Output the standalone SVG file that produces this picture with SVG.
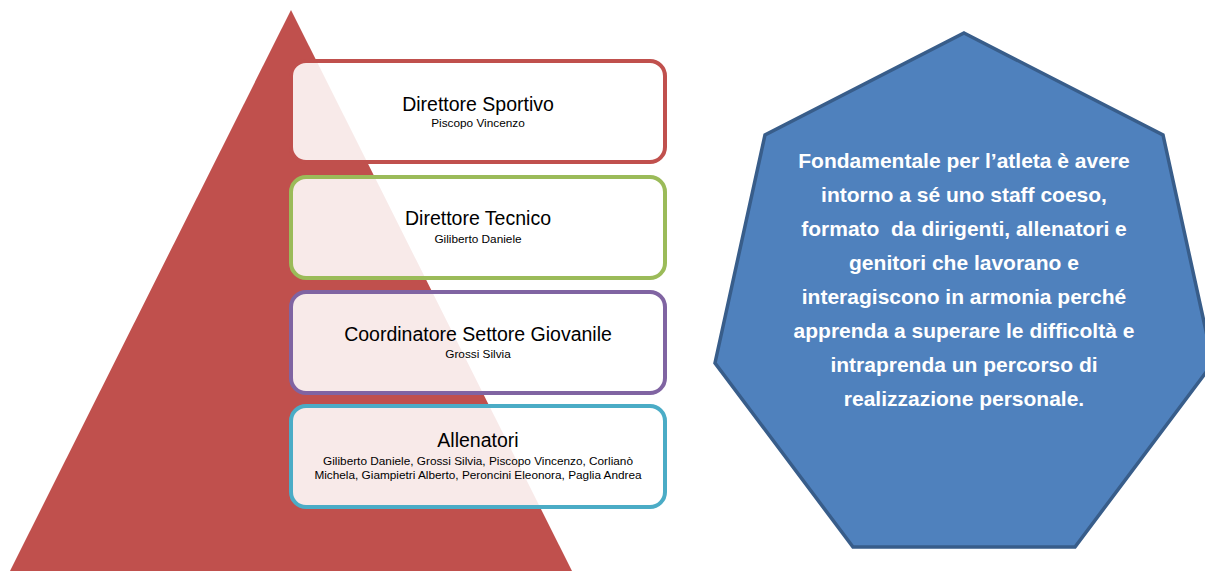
<svg xmlns="http://www.w3.org/2000/svg" width="1205" height="571" viewBox="0 0 1205 571">
<style>
.box{fill:#ffffff;fill-opacity:0.88;stroke-width:4}
.t{font-family:"Liberation Sans",Arial,sans-serif;fill:#000;text-anchor:middle}
.h{font-size:19.5px}
.s{font-size:11.8px}
.w{font-family:"Liberation Sans",Arial,sans-serif;font-weight:bold;font-size:21px;fill:#fff;text-anchor:middle}
</style>
<rect width="1205" height="571" fill="#fff"/>
<g id="pyramid">
<polygon points="291,10 10,571 572,571" fill="#C0504D"/>
</g>
<g id="direttore-sportivo">
<rect class="box" x="291" y="61" width="374" height="101" rx="15" stroke="#C0504D"/>
<text class="t h" x="478" y="111">Direttore Sportivo</text>
<text class="t s" x="478" y="127">Piscopo Vincenzo</text>
</g>
<g id="direttore-tecnico">
<rect class="box" x="291" y="177" width="374" height="101" rx="15" stroke="#9BBB59"/>
<text class="t h" x="478" y="225">Direttore Tecnico</text>
<text class="t s" x="478" y="243">Giliberto Daniele</text>
</g>
<g id="coordinatore">
<rect class="box" x="291" y="292" width="374" height="101" rx="15" stroke="#8064A2"/>
<text class="t h" x="478" y="341">Coordinatore Settore Giovanile</text>
<text class="t s" x="478" y="358">Grossi Silvia</text>
</g>
<g id="allenatori">
<rect class="box" x="291" y="406" width="374" height="101" rx="15" stroke="#4BACC6"/>
<text class="t h" x="478" y="447">Allenatori</text>
<text class="t s" x="478" y="465">Giliberto Daniele, Grossi Silvia, Piscopo Vincenzo, Corlianò</text>
<text class="t s" x="478" y="479">Michela, Giampietri Alberto, Peroncini Eleonora, Paglia Andrea</text>
</g>
<g id="heptagon">
<polygon points="964,33 1163,135 1213,363 1075,547 853,547 715,363 765,135" fill="#4F81BD" stroke="#385D8A" stroke-width="3.5" stroke-linejoin="miter"/>
<text class="w" x="964" y="168">Fondamentale per l’atleta è avere</text>
<text class="w" x="964" y="202">intorno a sé uno staff coeso,</text>
<text class="w" x="964" y="236" xml:space="preserve">formato  da dirigenti, allenatori e</text>
<text class="w" x="964" y="270">genitori che lavorano e</text>
<text class="w" x="964" y="304">interagiscono in armonia perché</text>
<text class="w" x="964" y="338">apprenda a superare le difficoltà e</text>
<text class="w" x="964" y="372">intraprenda un percorso di</text>
<text class="w" x="964" y="406">realizzazione personale.</text>
</g>
</svg>
